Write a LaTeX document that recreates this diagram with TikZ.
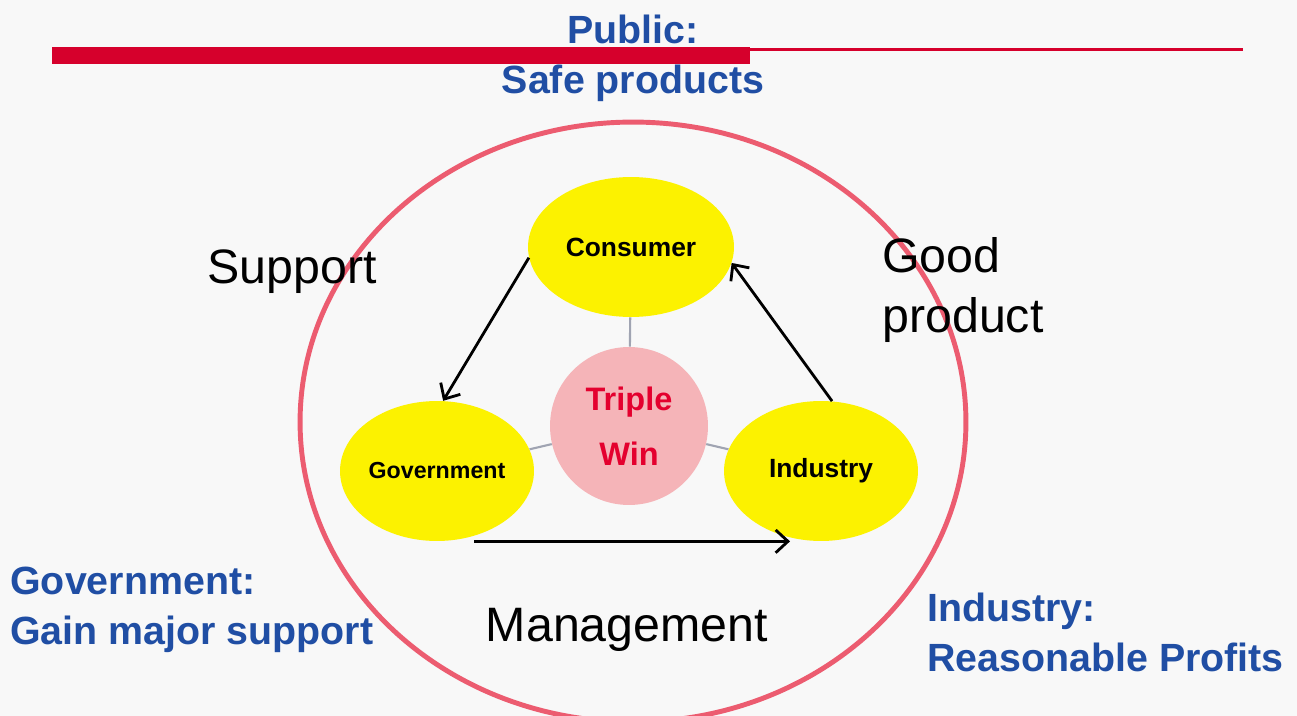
\documentclass[tikz,border=0pt]{standalone}
\usepackage{fontspec}
\setmainfont{Liberation Sans}
\usetikzlibrary{shapes,arrows,arrows.meta}
\definecolor{barred}{RGB}{214,0,44}
\definecolor{ringred}{RGB}{236,92,112}
\definecolor{txtblue}{RGB}{32,78,164}
\definecolor{eggyellow}{RGB}{252,242,0}
\definecolor{winpink}{RGB}{245,180,184}
\definecolor{winred}{RGB}{228,0,46}
\definecolor{spokegray}{RGB}{160,164,178}
\definecolor{paper}{RGB}{248,248,248}

\begin{document}
\begin{tikzpicture}[x=0.02cm, y=-0.02cm, >={Straight Barb[length=7pt, width=13pt]},
  lbl/.style={font=\fontsize{27.5}{34}\selectfont, inner sep=0pt},
  blu/.style={font=\bfseries\fontsize{22.4}{28.4}\selectfont, text=txtblue, inner sep=0pt}]
\tikzstyle{egg}=[ellipse, fill=eggyellow, inner sep=0pt, minimum height=2.8cm, font=\bfseries\fontsize{15}{18}\selectfont]
\tikzstyle{arr}=[->, line width=1.6pt]
\tikzstyle{spoke}=[draw=spokegray, line width=1.2pt]
\useasboundingbox (0,0) rectangle (1297,716);
\fill[paper] (0,0) rectangle (1297,716);
% title bar
\fill[barred] (52,47) rectangle (750,64);
\draw[barred, line width=1.4pt] (750,49.5) -- (1243,49.5);
\node[blu, align=center] (public) at (633,58) {Public:\\Safe products};
% outer ring
\node[ellipse, draw=ringred, line width=2.8pt, minimum width=13.32cm, minimum height=12cm] (ring) at (633,422) {};
% the three parties and the centre
\node[egg, minimum width=4.12cm] (cons) at (631,247) {Consumer};
\node[egg, minimum width=3.88cm, font=\bfseries\fontsize{13.2}{16}\selectfont] (gov) at (437,471) {Government};
\node[egg, minimum width=3.88cm] (ind) at (821,471) {Industry};
\node[circle, fill=winpink, inner sep=0pt, minimum size=3.16cm, text=winred, align=center, font=\bfseries\fontsize{18.5}{31}\selectfont] (win) at (629,426) {Triple\\Win};
\foreach \n in {cons, gov, ind}{
\draw[spoke] (win) -- (\n);
}
\draw[arr] (cons.186) -- (gov.85);
\draw[arr] (ind.81) -- (cons.351);
\draw[arr] ([xshift=0.74cm]gov.south) -- ([xshift=-0.62cm]ind.south);
% side labels
\node[lbl] (support) at (292,272) {Support};
\node[lbl, anchor=west, align=left] (goodprod) at (882,290) {Good\\product};
\node[lbl] (mgmt) at (627,630) {Management};
\node[blu, anchor=west, align=left] (govgoal) at (10,610) {Government:\\Gain major support};
\node[blu, anchor=west, align=left] (indgoal) at (927,632) {Industry:\\Reasonable Profits};
\end{tikzpicture}
\end{document}
